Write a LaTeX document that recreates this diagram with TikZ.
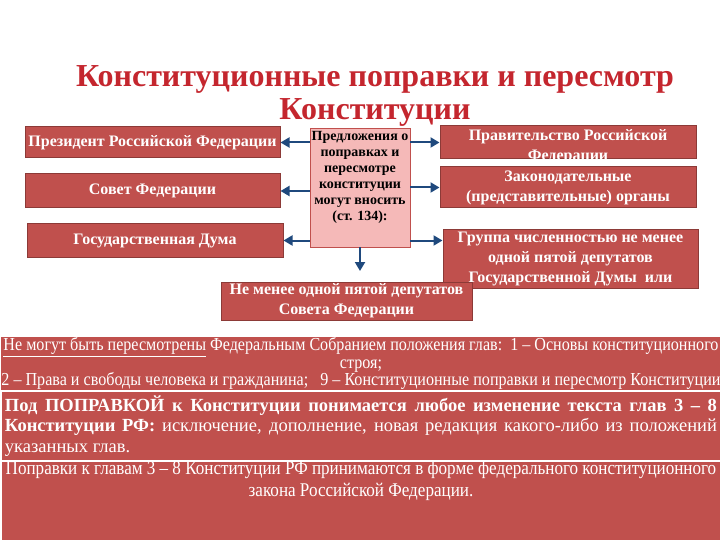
\documentclass[tikz,border=0pt]{standalone}
\usepackage{fontspec}
\setmainfont{Liberation Serif}
\newfontfamily\narrowserif[FakeStretch=0.88]{Liberation Serif}
\usetikzlibrary{arrows.meta}

\definecolor{boxred}{HTML}{C0504D}
\definecolor{boxedge}{HTML}{8C3A37}
\definecolor{pinkfill}{HTML}{F5B9B8}
\definecolor{arrowblue}{HTML}{1F497D}
\definecolor{titlered}{HTML}{C4262E}

\begin{document}
\begin{tikzpicture}[x=1pt,y=-1pt,
  redbox/.style={draw=boxedge, line width=1pt, fill=boxred, inner sep=1pt},
  boxtext/.style={text=white, align=center, font=\bfseries\fontsize{16}{20}\selectfont},
  band/.style={fill=boxred, text=white, inner sep=0pt, minimum width=718pt},
  arr/.style={arrowblue, line width=2pt, -{Triangle[length=9pt,width=10pt]}}]
  \useasboundingbox (0,0) rectangle (720,540);

  % title
  \node[text=titlered, align=center, font=\bfseries\fontsize{32}{33}\selectfont] (title) at (375,96) {Конституционные поправки и пересмотр\\Конституции};

  % who may propose
  \node[redbox, boxtext, minimum width=255pt, minimum height=31pt] (pres) at (152.5,142.5) {Президент Российской Федерации};
  \node[redbox, boxtext, minimum width=255pt, minimum height=34pt] (sovet) at (152.5,191) {Совет Федерации};
  \node[redbox, boxtext, minimum width=256pt, minimum height=33pt] (duma) at (155,240.5) {Государственная Дума};

  \node[draw=boxred, line width=0.8pt, fill=pinkfill, minimum width=100pt, minimum height=119pt] (cbox) at (360,187.5) {};
  \node[align=center, font=\bfseries\fontsize{14}{16}\selectfont] (ctext) at (360,177.5) {Предложения о\\поправках и\\пересмотре\\конституции\\могут вносить\\(ст. 134):};

  \node[redbox, minimum width=256pt, minimum height=33pt] (gov) at (568,142.5) {};
  \begin{scope}
    \clip (gov.south west) rectangle (gov.north east);
    \node[boxtext, anchor=north] (govtext) at (gov.north) {Правительство Российской\\Федерации};
  \end{scope}
  \node[redbox, boxtext, minimum width=256pt, minimum height=41pt] (zak) at (568,187.5) {Законодательные\\(представительные) органы};
  \node[redbox, boxtext, minimum width=255pt, minimum height=58pt] (grp) at (570.5,259) {Группа численностью не менее\\одной пятой депутатов\\Государственной Думы \ или};
  \node[redbox, boxtext, minimum width=251pt, minimum height=38pt] (sfed) at (346.5,301) {Не менее одной пятой депутатов\\Совета Федерации};

  % arrows
  \draw[arr] (cbox.west |- pres) -- (pres.east);
  \draw[arr] (cbox.west |- sovet) -- (sovet.east);
  \draw[arr] (cbox.west |- duma) -- (duma.east);
  \draw[arr] (cbox.east |- gov) -- (gov.west);
  \draw[arr] (cbox.east |- zak) -- (zak.west);
  \draw[arr] (cbox.east |- duma) -- (duma -| grp.west);
  \coordinate (downend) at (cbox.south |- 0,271);
  \draw[arr] (cbox.south) -- (downend);

  % bands
  \node[band, minimum height=53pt, align=center, font=\narrowserif\fontsize{18.3}{17.5}\selectfont] (bandA) at (361,363.5) {\underline{Не могут быть пересмотрены} Федеральным Собранием положения глав:\ \ 1 – Основы конституционного\\строя;\\2 – Права и свободы человека и гражданина;\ \ \ 9 – Конституционные поправки и пересмотр Конституции};
  \node[band, minimum height=68pt, inner xsep=3pt, text width=712pt, align=justify, font=\bfseries\fontsize{18.5}{20.5}\selectfont] (bandB) at (361,426) {Под ПОПРАВКОЙ к Конституции понимается любое изменение текста глав 3 – 8\linebreak Конституции РФ: {\mdseries исключение, дополнение, новая редакция какого-либо из положений}\linebreak{\mdseries указанных глав.}};
  \node[band, minimum height=78pt] (bandC) at (361,501) {};
  \node[text=white, anchor=north, inner sep=0pt, align=center, font=\narrowserif\fontsize{19.4}{22}\selectfont] (bandCtext) at ([yshift=1pt]bandC.north) {Поправки к главам 3 – 8 Конституции РФ принимаются в форме федерального конституционного\\закона Российской Федерации.};
\end{tikzpicture}
\end{document}
